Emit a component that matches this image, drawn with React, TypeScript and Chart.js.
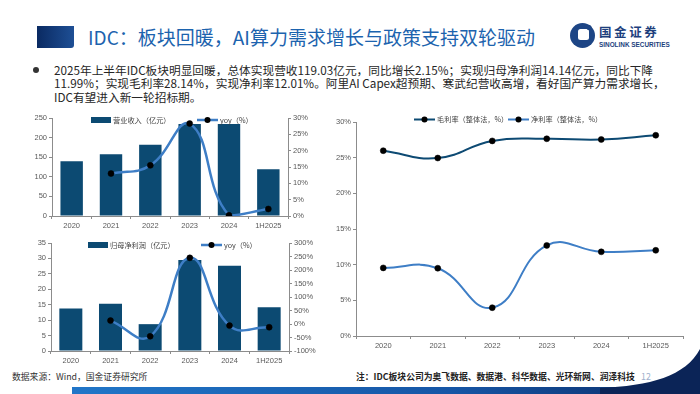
import React, { useEffect, useRef } from "react";
import { Chart, registerables } from "chart.js";
Chart.register(...registerables);

// ---------- data ----------
const categories = ["2020", "2021", "2022", "2023", "2024", "1H2025"];
const revenue = [139.6, 157.5, 181.5, 234.5, 234.5, 119.03];
const revenueYoy = [null, 13.0, 15.5, 28.3, 0.2, 2.15];
const netProfit = [13.8, 15.3, 8.7, 29.5, 27.6, 14.14];
const netProfitYoy = [null, 12.7, -45.5, 245, -6, -11.99];
const grossMargin = [25.98, 24.95, 27.35, 27.65, 27.55, 28.14];
const netMargin = [9.55, 9.5, 3.97, 12.7, 11.8, 12.01];

const revenueTicks = [0, 50, 100, 150, 200, 250];
const revenueYoyTicks = [0, 5, 10, 15, 20, 25, 30];
const profitTicks = [0, 5, 10, 15, 20, 25, 30, 35];
const profitYoyTicks = [-100, -50, 0, 50, 100, 150, 200, 250, 300];
const marginTicks = [0, 5, 10, 15, 20, 25, 30];

const revenueLabel = "营业收入（亿元）";
const profitLabel = "归母净利润（亿元）";
const yoyLabel = "yoy（%）";
const grossLabel = "毛利率（整体法，%）";
const netLabel = "净利率（整体法，%）";

// ---------- styles ----------
const BAR = "#0c4a72";
const DARK_LINE = "#0d4a73";
const LIGHT_LINE = "#3e7ec6";
const TICK = "#595959";
const AXIS = "#8c8c8c";
const FONT_LATIN = "'Liberation Sans', Arial, sans-serif";
const FONT_CJK = "'Noto Sans CJK SC', 'Noto Sans', sans-serif";

const manualLegend = {
  id: "manualLegend",
  afterDraw(chart: any, _args: any, opts: any) {
    if (!opts || !opts.items) return;
    const { ctx, chartArea } = chart;
    ctx.save();
    ctx.font = `${opts.fontSize || 7}px ${FONT_CJK}`;
    ctx.textBaseline = "middle";
    for (const it of opts.items) {
      const ds = chart.data.datasets[it.datasetIndex];
      const x = chartArea.left + it.dx;
      const y = chartArea.top + it.dy;
      if (it.kind === "bar") {
        ctx.fillStyle = ds.backgroundColor;
        ctx.fillRect(x, y - 3, 20, 6);
        ctx.fillStyle = "#404040";
        ctx.fillText(ds.label, x + 22, y);
      } else {
        ctx.strokeStyle = ds.borderColor;
        ctx.lineWidth = ds.borderWidth;
        ctx.beginPath();
        ctx.moveTo(x, y);
        ctx.lineTo(x + 21, y);
        ctx.stroke();
        ctx.fillStyle = "#000";
        ctx.beginPath();
        ctx.arc(x + 10.5, y, 3, 0, Math.PI * 2);
        ctx.fill();
        ctx.fillStyle = "#404040";
        ctx.fillText(ds.label, x + 23, y);
      }
    }
    ctx.restore();
  },
};

function yAxis(position: string, ticks: number[], fmt: (v: number) => string, width: number) {
  return {
    position,
    min: ticks[0],
    max: ticks[ticks.length - 1],
    afterBuildTicks: (s: any) => {
      s.ticks = ticks.map((v) => ({ value: v }));
    },
    ticks: {
      callback: (v: any) => fmt(Number(v)),
      color: TICK,
      font: { size: 7.5, family: FONT_LATIN },
      padding: 2,
    },
    grid: { drawOnChartArea: false, drawTicks: true, tickLength: 3, color: AXIS },
    border: { display: true, color: AXIS },
    afterFit: (s: any) => {
      s.width = width;
    },
  };
}

function xAxis(height: number) {
  return {
    offset: true,
    ticks: { color: TICK, font: { size: 7.5, family: FONT_LATIN }, padding: 2, maxRotation: 0, autoSkip: false },
    grid: { offset: true, drawOnChartArea: false, drawTicks: true, tickLength: 3, color: AXIS },
    border: { display: true, color: AXIS },
    afterFit: (s: any) => {
      s.height = height;
    },
  };
}

function lineDs(label: string, data: any[], color: string, yAxisID: string, width: number) {
  return {
    type: "line",
    label,
    data,
    yAxisID,
    borderColor: color,
    backgroundColor: color,
    borderWidth: width,
    tension: 0.45,
    pointRadius: 3,
    pointBackgroundColor: "#000",
    pointBorderColor: "#000",
    pointBorderWidth: 0.5,
    order: 0,
  };
}

function ChartCanvas({ config, style, w, h }: any) {
  const ref = useRef<HTMLCanvasElement>(null);
  useEffect(() => {
    const chart = new Chart(ref.current as HTMLCanvasElement, config);
    return () => chart.destroy();
  }, []);
  return <canvas ref={ref} width={w} height={h} style={{ position: "absolute", width: w, height: h, ...style }} />;
}

const pct = (v: number) => `${v}%`;
const num = (v: number) => `${v}`;

const revenueConfig: any = {
  type: "bar",
  data: {
    labels: categories,
    datasets: [
      {
        type: "bar",
        label: revenueLabel,
        data: revenue,
        backgroundColor: BAR,
        yAxisID: "y",
        categoryPercentage: 1,
        barPercentage: 0.57,
        order: 1,
      },
      lineDs(yoyLabel, revenueYoy, LIGHT_LINE, "y1", 2.5),
    ],
  },
  options: {
    responsive: false,
    animation: false,
    devicePixelRatio: 1,
    layout: { padding: { top: 10, right: 0, left: 0, bottom: 0 } },
    plugins: {
      legend: { display: false },
      tooltip: { enabled: false },
      manualLegend: {
        fontSize: 7.2,
        items: [
          { datasetIndex: 0, kind: "bar", dx: 39, dy: 2 },
          { datasetIndex: 1, kind: "line", dx: 145, dy: 2 },
        ],
      },
    },
    scales: {
      x: xAxis(16),
      y: yAxis("left", revenueTicks, num, 32),
      y1: yAxis("right", revenueYoyTicks, pct, 32),
    },
  },
  plugins: [manualLegend],
};

const profitConfig: any = {
  type: "bar",
  data: {
    labels: categories,
    datasets: [
      {
        type: "bar",
        label: profitLabel,
        data: netProfit,
        backgroundColor: BAR,
        yAxisID: "y",
        categoryPercentage: 1,
        barPercentage: 0.58,
        order: 1,
      },
      lineDs(yoyLabel, netProfitYoy, LIGHT_LINE, "y1", 2.5),
    ],
  },
  options: {
    responsive: false,
    animation: false,
    devicePixelRatio: 1,
    layout: { padding: { top: 8, right: 0, left: 0, bottom: 0 } },
    plugins: {
      legend: { display: false },
      tooltip: { enabled: false },
      manualLegend: {
        fontSize: 7.2,
        items: [
          { datasetIndex: 0, kind: "bar", dx: 37, dy: 2 },
          { datasetIndex: 1, kind: "line", dx: 150, dy: 2 },
        ],
      },
    },
    scales: {
      x: xAxis(17),
      y: yAxis("left", profitTicks, num, 31),
      y1: yAxis("right", profitYoyTicks, pct, 31),
    },
  },
  plugins: [manualLegend],
};

const marginConfig: any = {
  type: "line",
  data: {
    labels: categories,
    datasets: [
      lineDs(grossLabel, grossMargin, DARK_LINE, "y", 2),
      lineDs(netLabel, netMargin, LIGHT_LINE, "y", 2),
    ],
  },
  options: {
    responsive: false,
    animation: false,
    devicePixelRatio: 1,
    layout: { padding: { top: 14, right: 17, left: 0, bottom: 0 } },
    plugins: {
      legend: { display: false },
      tooltip: { enabled: false },
      manualLegend: {
        fontSize: 7.2,
        items: [
          { datasetIndex: 0, kind: "line", dx: 58, dy: -2.5 },
          { datasetIndex: 1, kind: "line", dx: 152, dy: -2.5 },
        ],
      },
    },
    scales: {
      x: xAxis(19),
      y: yAxis("left", marginTicks, pct, 26),
    },
  },
  plugins: [manualLegend],
};

export default function App() {
  const textStyle: React.CSSProperties = {
    position: "absolute",
    fontFamily: FONT_CJK,
    whiteSpace: "nowrap",
  };
  return (
    <div
      style={{
        position: "fixed",
        left: 0,
        top: 0,
        width: 700,
        height: 394,
        background: "#fff",
        overflow: "hidden",
      }}
    >
      <svg width={700} height={394} style={{ position: "absolute", left: 0, top: 0 }}>
        <defs>
          <linearGradient id="tb" x1="0" y1="0" x2="1" y2="0">
            <stop offset="0" stopColor="#0a2a62" />
            <stop offset="1" stopColor="#1e4f95" />
          </linearGradient>
          <linearGradient id="band" x1="0" y1="0" x2="1" y2="0">
            <stop offset="0" stopColor="#2176c8" />
            <stop offset="0.6" stopColor="#1656a6" />
            <stop offset="1" stopColor="#0b2c66" />
          </linearGradient>
        </defs>
        <path d="M37 26 H74 V45 Q74 48 71 48 H37 Z" fill="url(#tb)" />
        {/* logo */}
        <circle cx={582.5} cy={35.5} r={12.5} fill="#1d4585" />
        <rect x={578} y={29} width={11} height={11} rx={2.5} fill="#fff" />
        <circle cx={589} cy={27.5} r={2.5} fill="#1d4585" />
        {/* bottom band */}
        <rect x={72} y={387} width={628} height={7} fill="url(#band)" />
        <path d="M600 394 L600 388 C650 386 686 376 700 349 L700 394 Z" fill="#0b2457" />
        {/* bullet */}
        <circle cx={36} cy={70} r={3} fill="#333" />
      </svg>

      <div
        style={{
          ...textStyle,
          left: 88,
          top: 25,
          fontSize: 19,
          lineHeight: "24px",
          color: "#1c63ae",
        }}
      >
        IDC：板块回暖，AI算力需求增长与政策支持双轮驱动
      </div>

      <div
        style={{
          ...textStyle,
          left: 599,
          top: 24,
          fontSize: 12.5,
          lineHeight: "16px",
          fontWeight: 700,
          letterSpacing: 2.6,
          color: "#1d3f7d",
        }}
      >
        国金证券
      </div>
      <div
        style={{
          ...textStyle,
          left: 599,
          top: 41,
          fontSize: 6.4,
          lineHeight: "8px",
          fontWeight: 700,
          fontFamily: FONT_LATIN,
          color: "#1d3f7d",
        }}
      >
        SINOLINK SECURITIES
      </div>

      <div
        style={{
          ...textStyle,
          left: 54,
          top: 63,
          fontSize: 11.7,
          lineHeight: "13.4px",
          color: "#262626",
        }}
      >
        <div>2025年上半年IDC板块明显回暖，总体实现营收119.03亿元，同比增长2.15%；实现归母净利润14.14亿元，同比下降</div>
        <div>11.99%；实现毛利率28.14%，实现净利率12.01%。阿里AI Capex超预期、寒武纪营收高增，看好国产算力需求增长，</div>
        <div>IDC有望进入新一轮招标期。</div>
      </div>

      <ChartCanvas config={revenueConfig} w={300} h={124} style={{ left: 20, top: 108 }} />
      <ChartCanvas config={profitConfig} w={300} h={133} style={{ left: 20, top: 235 }} />
      <ChartCanvas config={marginConfig} w={370} h={247} style={{ left: 330, top: 108 }} />

      <div style={{ ...textStyle, left: 12, top: 371, fontSize: 8.8, lineHeight: "12px", color: "#333" }}>
        数据来源：Wind，国金证券研究所
      </div>
      <div
        style={{
          ...textStyle,
          left: 356,
          top: 371,
          fontSize: 8.8,
          lineHeight: "12px",
          fontWeight: 700,
          color: "#222",
        }}
      >
        注：IDC板块公司为奥飞数据、数据港、科华数据、光环新网、润泽科技
      </div>
      <div style={{ ...textStyle, left: 641, top: 371, fontSize: 8.8, lineHeight: "12px", color: "#9db0cc" }}>
        12
      </div>
    </div>
  );
}
